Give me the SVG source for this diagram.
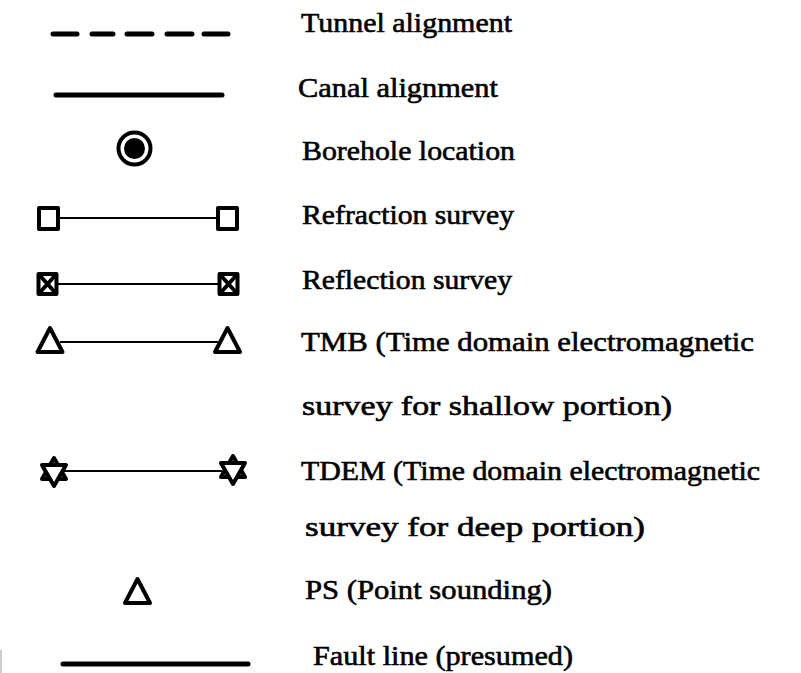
<svg xmlns="http://www.w3.org/2000/svg" width="801" height="673" viewBox="0 0 801 673">
<style>
.lbl{font-family:"Liberation Serif","Times New Roman",serif;font-size:28px;fill:#000;stroke:#000;stroke-width:0.6}
.thick{stroke:#000;stroke-width:5;fill:none;stroke-linecap:round}
.thin{stroke:#000;stroke-width:2;fill:none}
.sym{stroke:#000;stroke-width:4;fill:#fff;stroke-linejoin:round}
</style>
<rect width="801" height="673" fill="#fff"/>
<defs>
<rect id="sq" x="-9.5" y="-10.5" width="19" height="21"/>
<g id="xsq"><rect x="-9" y="-10" width="18" height="20"/><path d="M-9,-10L9,10M9,-10L-9,10"/></g>
<path id="tri" d="M0,-12L12.5,12H-12.5Z"/>
<g id="star"><path d="M0,-14L12,7H-12Z"/><path d="M0,14L12,-7H-12Z"/></g>
</defs>
<g id="connectors">
<path class="thick" d="M53,34H77M92,34H113M127,34H152M167,34H192M204,34H228"/>
<line class="thick" x1="56" y1="95" x2="222" y2="95"/>
<line class="thin" x1="58" y1="218" x2="218" y2="218"/>
<line class="thin" x1="57" y1="284" x2="219" y2="284"/>
<line class="thin" x1="60" y1="342" x2="218" y2="342"/>
<line class="thin" stroke-width="2.5" x1="64" y1="471" x2="222" y2="471"/>
<line class="thick" x1="63" y1="664" x2="248" y2="664"/>
</g>
<g id="tunnel"><text class="lbl" x="301" y="32" textLength="211" lengthAdjust="spacingAndGlyphs">Tunnel alignment</text></g>
<g id="canal"><text class="lbl" x="298" y="97" textLength="200" lengthAdjust="spacingAndGlyphs">Canal alignment</text></g>
<g id="borehole">
<circle cx="134.5" cy="148.5" r="16" fill="#fff" stroke="#000" stroke-width="4"/>
<circle cx="134.5" cy="148.5" r="10.5" fill="#000"/>
<text class="lbl" x="302" y="160" textLength="213" lengthAdjust="spacingAndGlyphs">Borehole location</text></g>
<g id="refraction">
<use href="#sq" x="48.5" y="218.5" class="sym"/>
<use href="#sq" x="227.5" y="218.5" class="sym"/>
<text class="lbl" x="302" y="224" textLength="212" lengthAdjust="spacingAndGlyphs">Refraction survey</text></g>
<g id="reflection">
<use href="#xsq" x="47.5" y="284" class="sym"/>
<use href="#xsq" x="228.5" y="284" class="sym"/>
<text class="lbl" x="302" y="289" textLength="210" lengthAdjust="spacingAndGlyphs">Reflection survey</text></g>
<g id="tmb">
<use href="#tri" x="50" y="340" class="sym"/>
<use href="#tri" x="227.5" y="340" class="sym"/>
<text class="lbl" x="301" y="351" textLength="453" lengthAdjust="spacingAndGlyphs">TMB (Time domain electromagnetic</text>
<text class="lbl" x="302" y="415" textLength="370" lengthAdjust="spacingAndGlyphs">survey for shallow portion)</text></g>
<g id="tdem">
<use href="#star" x="54" y="472" class="sym"/>
<use href="#star" x="233" y="470" class="sym"/>
<text class="lbl" x="301" y="480" textLength="459" lengthAdjust="spacingAndGlyphs">TDEM (Time domain electromagnetic</text>
<text class="lbl" x="305" y="536" textLength="340" lengthAdjust="spacingAndGlyphs">survey for deep portion)</text></g>
<g id="ps">
<use href="#tri" x="137.5" y="591" class="sym"/>
<text class="lbl" x="305" y="599" textLength="247" lengthAdjust="spacingAndGlyphs">PS (Point sounding)</text></g>
<g id="fault"><text class="lbl" x="313" y="665" textLength="260" lengthAdjust="spacingAndGlyphs">Fault line (presumed)</text></g>
<rect x="0" y="650" width="2" height="23" fill="#ccc"/>
</svg>
